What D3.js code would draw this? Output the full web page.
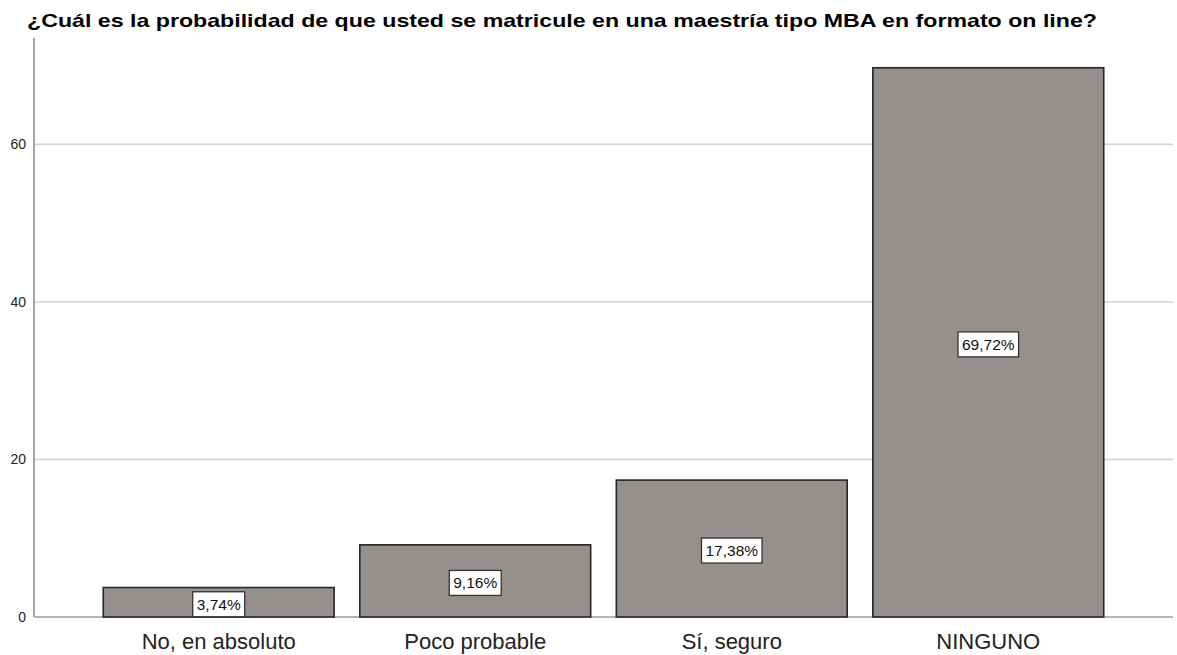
<!DOCTYPE html>
<html>
<head>
<meta charset="utf-8">
<script src="https://cdn.jsdelivr.net/npm/d3@7/dist/d3.min.js"></script>
<style>
  body { margin: 0; background: #fff; }
  text { font-family: "Liberation Sans", Arial, sans-serif; }
</style>
</head>
<body>
<div id="chart"></div>
<script>
const width = 1177;
const height = 655;

// data
const categories = ["No, en absoluto", "Poco probable", "Sí, seguro", "NINGUNO"];
const values = [3.74, 9.16, 17.38, 69.72];
const percentLabels = ["3,74%", "9,16%", "17,38%", "69,72%"];
const yTicks = [0, 20, 40, 60];
const title = "¿Cuál es la probabilidad de que usted se matricule en una maestría tipo MBA en formato on line?";

const svg = d3.select("#chart")
  .append("svg")
  .attr("width", width)
  .attr("height", height);

/*
Scales
*/
const x = d3.scaleBand()
  .domain(categories)
  .range([34, 1173])
  .paddingInner(0.1)
  .paddingOuter(0.27);
const y = d3.scaleLinear()
  .domain([0, 73.5])
  .range([617, 38]);

/*
Title
*/
const titleText = svg.append("text")
  .attr("x", 27)
  .attr("y", 27)
  .attr("font-size", 19)
  .attr("font-weight", "bold")
  .attr("fill", "#000")
  .text(title);
// stretch to the width seen in the picture
titleText.attr("textLength", 1070).attr("lengthAdjust", "spacingAndGlyphs");

/*
Gridlines and y axis
*/
const yAxis = d3.axisLeft(y)
  .tickValues(yTicks)
  .tickSize(0)
  .tickPadding(8);
const yG = svg.append("g")
  .attr("transform", "translate(34,0)")
  .call(yAxis);
yG.select(".domain").remove();
yG.selectAll("text")
  .attr("font-size", 14)
  .attr("fill", "#222")
  .attr("font-family", "Liberation Sans, Arial, sans-serif");

svg.append("g")
  .selectAll("line")
  .data(yTicks.filter(d => d > 0))
  .enter()
  .append("line")
  .attr("x1", 34)
  .attr("x2", 1173)
  .attr("y1", d => y(d))
  .attr("y2", d => y(d))
  .attr("stroke", "#cfcfcf")
  .attr("stroke-width", 1.5);

// axis lines
svg.append("line")
  .attr("x1", 34).attr("x2", 1173)
  .attr("y1", y(0)).attr("y2", y(0))
  .attr("stroke", "#9a9a9a")
  .attr("stroke-width", 1.5);
svg.append("line")
  .attr("x1", 34).attr("x2", 34)
  .attr("y1", y.range()[1]).attr("y2", y(0))
  .attr("stroke", "#9a9a9a")
  .attr("stroke-width", 1.8);

/*
Bars
*/
svg.append("g")
  .selectAll("rect")
  .data(values)
  .enter()
  .append("rect")
  .attr("x", (d, i) => x(categories[i]))
  .attr("y", d => y(d))
  .attr("width", x.bandwidth())
  .attr("height", d => y(0) - y(d))
  .attr("fill", "#958f8e")
  .attr("stroke", "#262626")
  .attr("stroke-width", 1.6);

/*
Percent labels
*/
const labelG = svg.append("g");
values.forEach((v, i) => {
  const cx = x(categories[i]) + x.bandwidth() / 2;
  const cy = (y(v) + y(0)) / 2 + 2;
  const g = labelG.append("g");
  const rect = g.append("rect");
  const t = g.append("text")
    .attr("x", cx)
    .attr("y", cy + 5.5)
    .attr("text-anchor", "middle")
    .attr("font-size", 15.5)
    .attr("fill", "#111")
    .text(percentLabels[i]);
  const w = t.node().getComputedTextLength() + 8;
  const h = 25;
  rect.attr("x", cx - w / 2)
    .attr("y", Math.min(cy - h / 2, y(0) - h))
    .attr("width", w)
    .attr("height", h)
    .attr("fill", "#fff")
    .attr("stroke", "#333")
    .attr("stroke-width", 1.3);
});

/*
Category labels
*/
svg.append("g")
  .selectAll("text")
  .data(categories)
  .enter()
  .append("text")
  .attr("x", d => x(d) + x.bandwidth() / 2)
  .attr("y", 649)
  .attr("text-anchor", "middle")
  .attr("font-size", 22)
  .attr("fill", "#222")
  .text(d => d);
</script>
</body>
</html>
